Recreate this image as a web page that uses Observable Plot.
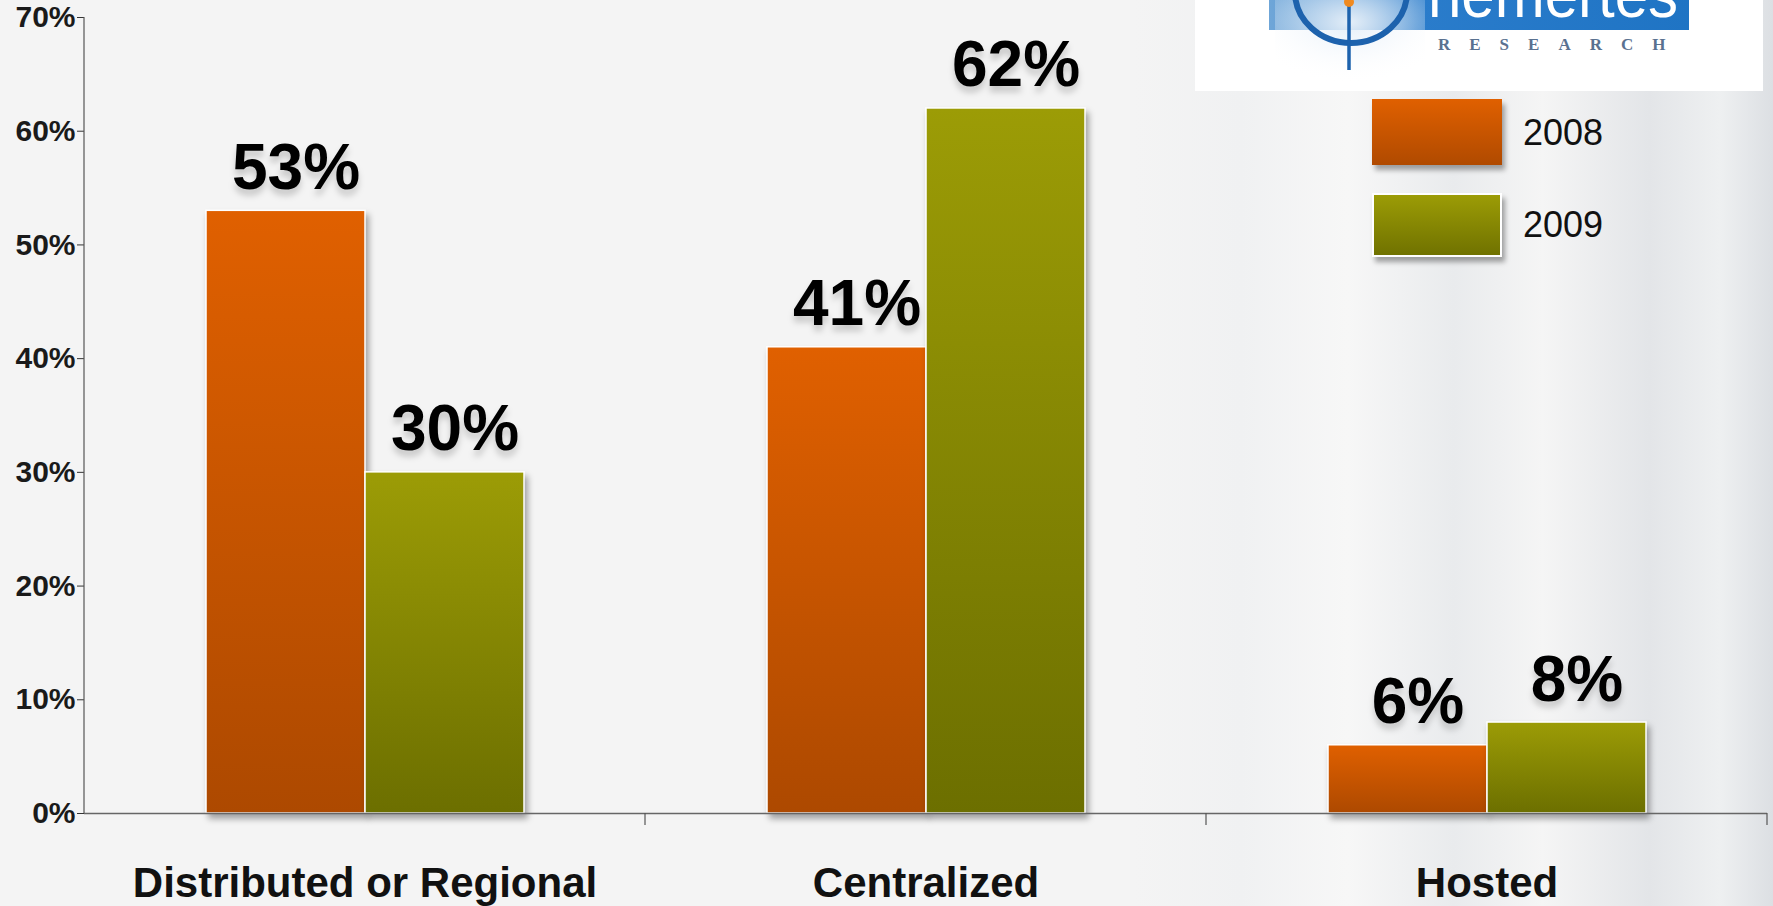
<!DOCTYPE html>
<html>
<head>
<meta charset="utf-8">
<script src="https://cdn.jsdelivr.net/npm/d3@7"></script>
<script src="https://cdn.jsdelivr.net/npm/@observablehq/plot@0.6"></script>
<style>
  html, body { margin: 0; padding: 0; }
  body { width: 1773px; height: 906px; overflow: hidden; font-family: "Liberation Sans", Arial, sans-serif; }
  #wrap {
    position: relative; width: 1773px; height: 906px;
    background: linear-gradient(to right, #f4f4f4 0%, #f4f4f4 64%, #f0f1f2 70%, #f7f7f7 76%, #e9ebed 82%, #f5f5f5 87%, #e3e5e8 93%, #eef0f1 97%, #dcdfe3 100%);
  }
  #chart { position: absolute; left: 0; top: 0; }
  #chart svg g[aria-label="bar"] rect { filter: drop-shadow(3px 5px 3px rgba(0,0,0,0.35)); }
  #chart svg g[aria-label="y-axis tick label"] text,
  #chart svg g[aria-label="fx-axis tick label"] text { font-weight: bold; }
  #chart svg g[aria-label="text"] text { filter: drop-shadow(0px 6px 3px rgba(0,0,0,0.18)); }
  #logo { position: absolute; left: 1195px; top: 0; width: 568px; height: 91px; background: #fff; }
  .legend-item { position: absolute; left: 1372px; width: 130px; height: 66px; box-shadow: 3px 5px 5px rgba(0,0,0,0.35); }
  .legend-label { position: absolute; left: 1523px; font-size: 36px; color: #111; line-height: 1; }
</style>
</head>
<body>
<div id="wrap">
  <div id="chart"></div>
  <div id="logo">
    <svg width="568" height="91" viewBox="0 0 568 91">
      <defs>
        <clipPath id="band"><rect x="74" y="0" width="420" height="30"/></clipPath>
        <linearGradient id="bandg" x1="0" y1="0" x2="1" y2="0">
          <stop offset="0" stop-color="#6fa6d8"/>
          <stop offset="0.35" stop-color="#2a7ccb"/>
          <stop offset="1" stop-color="#1f74c4"/>
        </linearGradient>
        <radialGradient id="glow" cx="0.5" cy="0.25" r="0.7">
          <stop offset="0" stop-color="#e4eef8"/>
          <stop offset="1" stop-color="#ffffff" stop-opacity="0"/>
        </radialGradient>
      </defs>
      <rect x="74" y="0" width="420" height="30" fill="url(#bandg)"/>
      <rect x="80" y="0" width="150" height="88" fill="url(#glow)"/>
      <g clip-path="url(#band)">
        <text x="233" y="17" font-family="Liberation Sans, Arial" font-size="64" textLength="250" lengthAdjust="spacingAndGlyphs" fill="#fff">nemertes</text>
      </g>
      <path d="M 100 -8 A 55 50 0 0 0 212 -8" fill="none" stroke="#1d62ad" stroke-width="6"/>
      <line x1="154" y1="0" x2="154" y2="70" stroke="#1d62ad" stroke-width="3.5"/>
      <circle cx="154" cy="2" r="5" fill="#f08a20"/>
      <text x="243" y="50" font-family="Liberation Serif, serif" font-weight="bold" font-size="17" letter-spacing="19" fill="#5a7190">RESEARCH</text>
    </svg>
  </div>
  <div class="legend-item" style="top:99px; background: linear-gradient(#e06000, #b04a00);"></div>
  <div class="legend-label" style="top:115px;">2008</div>
  <div class="legend-item" style="top:193px; height:64px; box-sizing:border-box; border:2px solid #fff; background: linear-gradient(#9c9c06, #707200);"></div>
  <div class="legend-label" style="top:207px;">2009</div>
</div>
<script>
const categories = ["Distributed or Regional", "Centralized", "Hosted"];
const years = ["2008", "2009"];
const values2008 = [53, 41, 6];
const values2009 = [30, 62, 8];
const yTicks = [0, 10, 20, 30, 40, 50, 60, 70];

const data = categories.flatMap((c, i) => [
  {category: c, year: years[0], value: values2008[i]},
  {category: c, year: years[1], value: values2009[i]}
]);

const defs = () => {
  const ns = "http://www.w3.org/2000/svg";
  const d = document.createElementNS(ns, "defs");
  d.innerHTML = `
    <linearGradient id="g2008" x1="0" y1="0" x2="0" y2="1">
      <stop offset="0" stop-color="#e06000"/>
      <stop offset="1" stop-color="#ad4900"/>
    </linearGradient>
    <linearGradient id="g2009" x1="0" y1="0" x2="0" y2="1">
      <stop offset="0" stop-color="#9c9c06"/>
      <stop offset="1" stop-color="#6c6f00"/>
    </linearGradient>`;
  return d;
};

const plot = Plot.plot({
  width: 1773,
  height: 906,
  marginLeft: 84,
  marginRight: 6,
  marginTop: 17,
  marginBottom: 93,
  style: {background: "transparent", fontFamily: "'Liberation Sans', Arial, sans-serif", color: "#111", overflow: "visible"},
  fx: {domain: categories, paddingInner: 0, paddingOuter: 0, label: null},
  x: {domain: years, paddingInner: 0, paddingOuter: 0.76, axis: null},
  y: {domain: [0, 70], axis: null},
  marks: [
    defs,
    Plot.axisY({ticks: yTicks, tickFormat: d => d + "%", tickSize: 7, tickPadding: 2, fontSize: 30, fontWeight: "bold", label: null, stroke: "#333", fill: "#1a1a1a"}),
    Plot.axisFx({anchor: "bottom", tickSize: 0, tickPadding: 54, fontSize: 42, fontWeight: "bold", label: null, fill: "#111"}),
    Plot.barY(data.filter(d => d.year === years[0]), {fx: "category", x: "year", y: "value", fill: "url(#g2008)", stroke: "white", strokeWidth: 1.5}),
    Plot.barY(data.filter(d => d.year === years[1]), {fx: "category", x: "year", y: "value", fill: "url(#g2009)", stroke: "white", strokeWidth: 1.5}),
    Plot.ruleY([0], {stroke: "#666", strokeWidth: 1.5}),
    Plot.text(data, {fx: "category", x: "year", y: "value", text: d => d.value + "%", lineAnchor: "bottom", dy: -22, dx: 10, fontSize: 64, fontWeight: "bold", fill: "#000"})
  ]
});

document.getElementById("chart").appendChild(plot);

// axis lines and category separator ticks, positioned with the plot's own scales
const svg = d3.select(plot);
const fx = plot.scale("fx");
const y = plot.scale("y");
const y0 = y.apply(0), yTop = y.apply(70);
const x0 = fx.apply(categories[0]);
const g = svg.append("g").attr("stroke", "#555").attr("stroke-width", 1.2);
g.append("line").attr("x1", x0).attr("x2", x0).attr("y1", yTop).attr("y2", y0);
const edges = categories.map(c => fx.apply(c)).concat([fx.apply(categories[categories.length - 1]) + fx.bandwidth]);
edges.slice(1).forEach(e => {
  g.append("line").attr("x1", e).attr("x2", e).attr("y1", y0).attr("y2", y0 + 12);
});
</script>
</body>
</html>
